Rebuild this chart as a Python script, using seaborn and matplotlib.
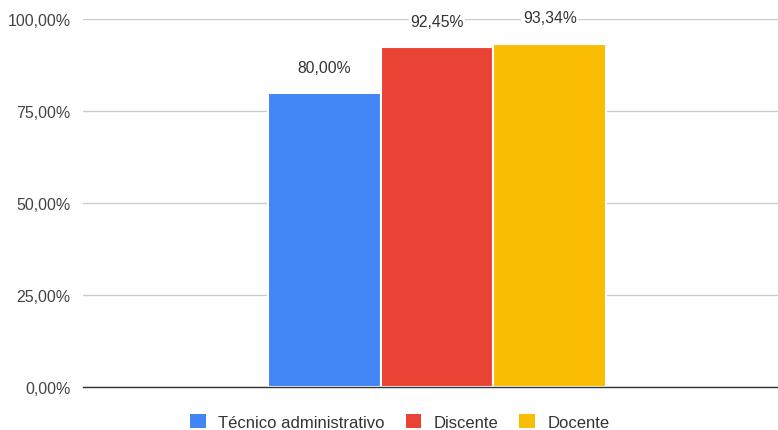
import matplotlib
matplotlib.use("Agg")
import matplotlib.pyplot as plt
import seaborn as sns
import pandas as pd
from matplotlib.ticker import FuncFormatter

grupos = ["Técnico administrativo", "Discente", "Docente"]
valores = [80.00, 92.45, 93.34]
cores = ["#4285f4", "#ea4335", "#fbbc04"]
yticks = [0, 25, 50, 75, 100]

df = pd.DataFrame({"cat": [""] * 3, "grupo": grupos, "valor": valores})

sns.set_style("white")
plt.rcParams["font.family"] = ["Liberation Sans", "DejaVu Sans"]

fig = plt.figure(figsize=(7.78, 4.31), dpi=100)
ax = fig.add_axes([83 / 778, 43 / 431, 695 / 778, 368 / 431])

sns.barplot(data=df, x="cat", y="valor", hue="grupo", palette=cores, saturation=1,
            width=0.8, edgecolor="white", linewidth=1.5, ax=ax, legend=True)

ax.set_ylim(0, 100)
ax.set_xlim(-0.838, 0.807)
ax.set_yticks(yticks)
ax.yaxis.set_major_formatter(FuncFormatter(lambda v, p: f"{v:.2f}%".replace(".", ",")))
ax.grid(axis="y", color="#cccccc", linewidth=1)
ax.set_axisbelow(True)
ax.set_xlabel("")
ax.set_ylabel("")
ax.set_xticks([])
ax.tick_params(axis="y", length=0, labelsize=11.5, labelcolor="#444444", pad=9)
for s in ["top", "right", "left"]:
    ax.spines[s].set_visible(False)
ax.spines["bottom"].set_color("#333333")
ax.spines["bottom"].set_linewidth(1)

for cont in ax.containers:
    ax.bar_label(cont, labels=[f"{v:.2f}%".replace(".", ",") for v in cont.datavalues],
                 padding=13, fontsize=11.3, color="#333333",
                 bbox=dict(facecolor="white", edgecolor="none", pad=1))

leg = ax.legend(loc="center", bbox_to_anchor=(0.456, -0.094), ncol=3,
                frameon=False, fontsize=12, handlelength=0.95, handleheight=0.95,
                handletextpad=0.75, columnspacing=1.25, borderpad=0)
for t in leg.get_texts():
    t.set_color("#333333")
for h in leg.legend_handles:
    h.set_edgecolor("none")

fig.savefig("out.png", dpi=100)
